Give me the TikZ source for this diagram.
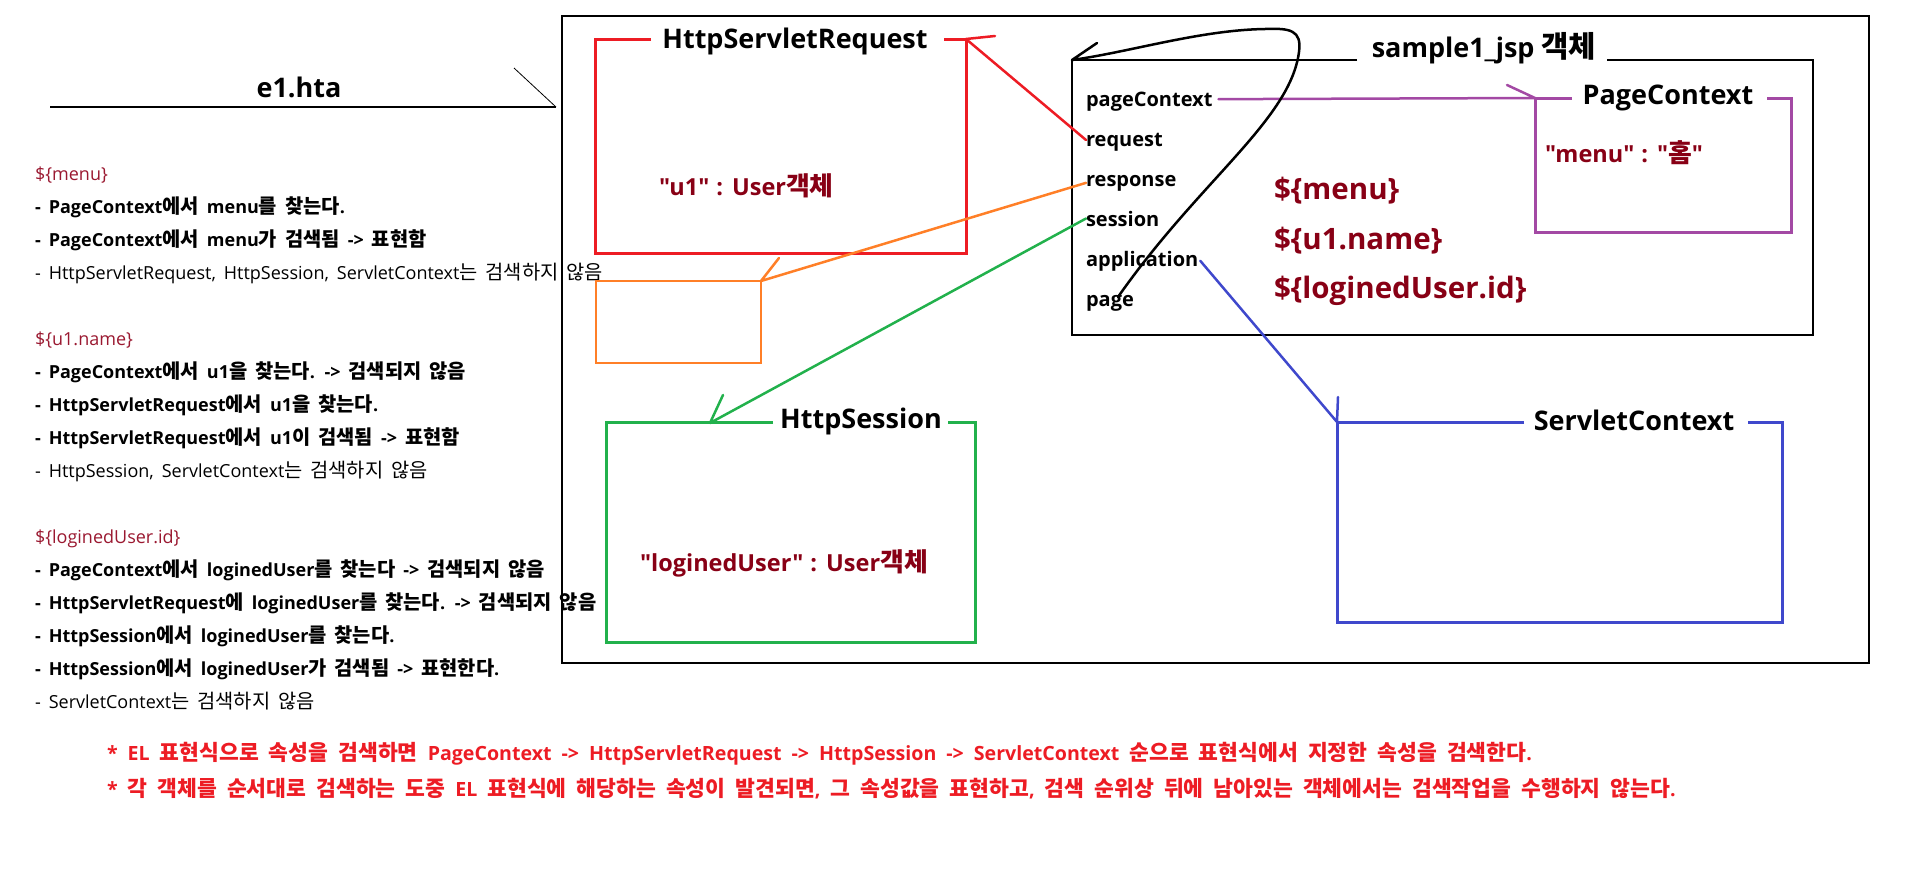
\documentclass[tikz,border=0pt]{standalone}
\usepackage{fontspec}
\setmainfont{Open Sans}[Ligatures=TeXOff]
\newfontfamily\latfont{Open Sans}[Ligatures=TeXOff]
\newfontfamily\krfont{Noto Sans CJK KR}[Scale=1.1,Ligatures=TeXOff]
% switch to the Korean font for Hangul syllables, back to Open Sans otherwise
\XeTeXinterchartokenstate=1
\newXeTeXintercharclass\KRclass
\newcount\krc
\krc="AC00
\loop \XeTeXcharclass\krc=\KRclass \advance\krc by 1 \ifnum\krc<"D7A4 \repeat
\XeTeXinterchartoks 0 \KRclass = {\krfont}
\XeTeXinterchartoks 4095 \KRclass = {\krfont}
\XeTeXinterchartoks \KRclass 0 = {\latfont}
\XeTeXinterchartoks \KRclass 4095 = {\latfont}
\newcommand\widesp[1]{\spaceskip=#1\relax}
\definecolor{maroon}{HTML}{880015}
\definecolor{hdr}{HTML}{9A1830}
\definecolor{pred}{HTML}{ED1C24}
\definecolor{porange}{HTML}{FF7F27}
\definecolor{pgreen}{HTML}{22B14C}
\definecolor{pblue}{HTML}{3F48CC}
\definecolor{ppurple}{HTML}{A349A4}
\definecolor{fred}{HTML}{ED1C24}
\begin{document}
\begin{tikzpicture}[x=1pt,y=-1pt,
  every node/.style={inner sep=0pt,outer sep=0pt},
  boxshape/.style={draw=none,rectangle},
  lhead/.style={anchor=base west,text=hdr,font=\fontsize{18}{22}\selectfont,execute at begin node={\widesp{8pt}}},
  lbold/.style={anchor=base west,font=\fontsize{18}{22}\selectfont\bfseries,execute at begin node={\widesp{8pt}}},
  lreg/.style={anchor=base west,font=\fontsize{18}{22}\selectfont,execute at begin node={\widesp{8pt}}},
  item/.style={anchor=base west,font=\fontsize{20}{24}\selectfont\bfseries},
  boxtitle/.style={anchor=base,font=\fontsize{27}{32}\selectfont\bfseries},
  valtxt/.style={anchor=base west,text=maroon,font=\fontsize{23.5}{26}\selectfont\bfseries,execute at begin node={\widesp{7pt}}},
  bigel/.style={anchor=base west,text=maroon,font=\fontsize{29.5}{34}\selectfont\bfseries},
  foot/.style={anchor=base west,text=fred,font=\fontsize{19.6}{24}\selectfont\bfseries,execute at begin node={\widesp{10pt}}},
  thin/.style={line width=1.2pt},
  thick/.style={line width=3pt},
  conn/.style={line width=2.5pt,line cap=round,line join=round}
]
\useasboundingbox (0,0) rectangle (1907,873);

% ---------- left column ----------
\node[anchor=base,font=\fontsize{27}{32}\selectfont\bfseries] (etitle) at (299,97) {e1.hta};
\coordinate (eL) at (50,107);
\coordinate (eR) at (556,107);
\coordinate (eD) at (514,68);
\draw[line width=1.3pt] (eL) -- (eR);
\draw[line width=0.8pt] (eD) -- (eR);

\node[lhead] (h1) at (35,180) {\$\{menu\}};
\node[lbold] (t1) at (35,213) {- PageContext에서 menu를 찾는다.};
\node[lbold] (t2) at (35,246) {- PageContext에서 menu가 검색됨 -> 표현함};
\node[lreg]  (t3) at (35,279) {- HttpServletRequest, HttpSession, ServletContext는 검색하지 않음};
\node[lhead] (h2) at (35,345) {\$\{u1.name\}};
\node[lbold] (t4) at (35,378) {- PageContext에서 u1을 찾는다. -> 검색되지 않음};
\node[lbold] (t5) at (35,411) {- HttpServletRequest에서 u1을 찾는다.};
\node[lbold] (t6) at (35,444) {- HttpServletRequest에서 u1이 검색됨 -> 표현함};
\node[lreg]  (t7) at (35,477) {- HttpSession, ServletContext는 검색하지 않음};
\node[lhead] (h3) at (35,543) {\$\{loginedUser.id\}};
\node[lbold] (t8) at (35,576) {- PageContext에서 loginedUser를 찾는다 -> 검색되지 않음};
\node[lbold] (t9) at (35,609) {- HttpServletRequest에 loginedUser를 찾는다. -> 검색되지 않음};
\node[lbold] (t10) at (35,642) {- HttpSession에서 loginedUser를 찾는다.};
\node[lbold] (t11) at (35,675) {- HttpSession에서 loginedUser가 검색됨 -> 표현한다.};
\node[lreg]  (t12) at (35,708) {- ServletContext는 검색하지 않음};

% ---------- footnotes ----------
\node[foot] (f1) at (107,760) {* EL 표현식으로 속성을 검색하면 PageContext -> HttpServletRequest -> HttpSession -> ServletContext 순으로 표현식에서 지정한 속성을 검색한다.};
\node[foot] (f2) at (107,796) {* 각 객체를 순서대로 검색하는 도중 EL 표현식에 해당하는 속성이 발견되면, 그 속성값을 표현하고, 검색 순위상 뒤에 남아있는 객체에서는 검색작업을 수행하지 않는다.};

% ---------- outer frame ----------
\node[boxshape,draw,thin,minimum width=1307,minimum height=647] (outer) at (1215.5,339.5) {};

% ---------- HttpServletRequest ----------
\node[boxshape,minimum width=371,minimum height=214] (reqbox) at (780.5,146) {};
\node[boxtitle] (reqtitle) at (795,48) {HttpServletRequest};
\coordinate (reqgL) at (651,39);
\coordinate (reqgR) at (944,39);
\draw[pred,thick] (reqgL) -- (reqbox.north west) -- (reqbox.south west) -- (reqbox.south east) -- (reqbox.north east) -- (reqgR);
\node[valtxt] (u1val) at (659,195) {"u1" : User객체};

% ---------- orange (response) box ----------
\node[boxshape,draw=porange,line width=1.2pt,minimum width=165,minimum height=82] (resbox) at (678.5,322) {};

% ---------- sample1_jsp ----------
\node[boxshape,minimum width=741,minimum height=275] (jsp) at (1442.5,197.5) {};
\node[boxtitle] (jsptitle) at (1484,57) {sample1\_jsp 객체};
\coordinate (jspgL) at (1357,60);
\coordinate (jspgR) at (1607,60);
\draw[thin] (jspgL) -- (jsp.north west) -- (jsp.south west) -- (jsp.south east) -- (jsp.north east) -- (jspgR);

\node[item] (pageContext) at (1086,106) {pageContext};
\node[item] (request) at (1086,146) {request};
\node[item] (response) at (1086,186) {response};
\node[item] (session) at (1086,226) {session};
\node[item] (application) at (1086,266) {application};
\node[item] (page) at (1086,306) {page};

\node[bigel] (elmenu) at (1274,199) {\$\{menu\}};
\node[bigel] (elu1) at (1274,249) {\$\{u1.name\}};
\node[bigel] (elid) at (1274,298) {\$\{loginedUser.id\}};

% ---------- PageContext ----------
\node[boxshape,minimum width=256,minimum height=134] (pcbox) at (1663,165) {};
\node[boxtitle] (pctitle) at (1668,104) {PageContext};
\coordinate (pcgL) at (1572,98);
\coordinate (pcgR) at (1767,98);
\draw[ppurple,thick] (pcgL) -- (pcbox.north west) -- (pcbox.south west) -- (pcbox.south east) -- (pcbox.north east) -- (pcgR);
\node[valtxt] (menuval) at (1545,162) {"menu" : "홈"};

% ---------- HttpSession ----------
\node[boxshape,minimum width=369,minimum height=220] (sesbox) at (790.5,532) {};
\node[boxtitle] (sestitle) at (861,428) {HttpSession};
\coordinate (sesgL) at (773,422);
\coordinate (sesgR) at (948,422);
\draw[pgreen,thick] (sesgL) -- (sesbox.north west) -- (sesbox.south west) -- (sesbox.south east) -- (sesbox.north east) -- (sesgR);
\node[valtxt] (luval) at (640,571) {"loginedUser" : User객체};

% ---------- ServletContext ----------
\node[boxshape,minimum width=445,minimum height=200] (scbox) at (1559.5,522) {};
\node[boxtitle] (sctitle) at (1634,430) {ServletContext};
\coordinate (scgL) at (1524,422);
\coordinate (scgR) at (1748,422);
\draw[pblue,thick] (scgL) -- (scbox.north west) -- (scbox.south west) -- (scbox.south east) -- (scbox.north east) -- (scgR);

% ---------- connectors ----------
\draw[pred,conn] (request.base west) ++(0,-6) coordinate (reqstart) -- (reqbox.north east) -- ++(29,-3);
\draw[porange,conn] (response.west) -- (resbox.north east) -- ++(18,-23);
\coordinate (sesin) at (710,423);
\draw[pgreen,conn] (session.west) -- (sesin) -- ++(13,-28);
\draw[pblue,conn] (application.east) ++(2,0) -- (scbox.north west) -- ++(1,-25);
\draw[ppurple,conn] (pageContext.east) ++(6,-2) -- (pcbox.north west) -- ++(-28,-13);

\coordinate (loopstart) at (1118,297);
\draw[black,conn] (loopstart) .. controls (1200,180) and (1290,120) .. (1299,52)
   .. controls (1302,30) and (1290,28) .. (1265,29)
   .. controls (1200,30) and (1130,52) .. (jsp.north west) -- ++(25,-17);
\end{tikzpicture}
\end{document}
